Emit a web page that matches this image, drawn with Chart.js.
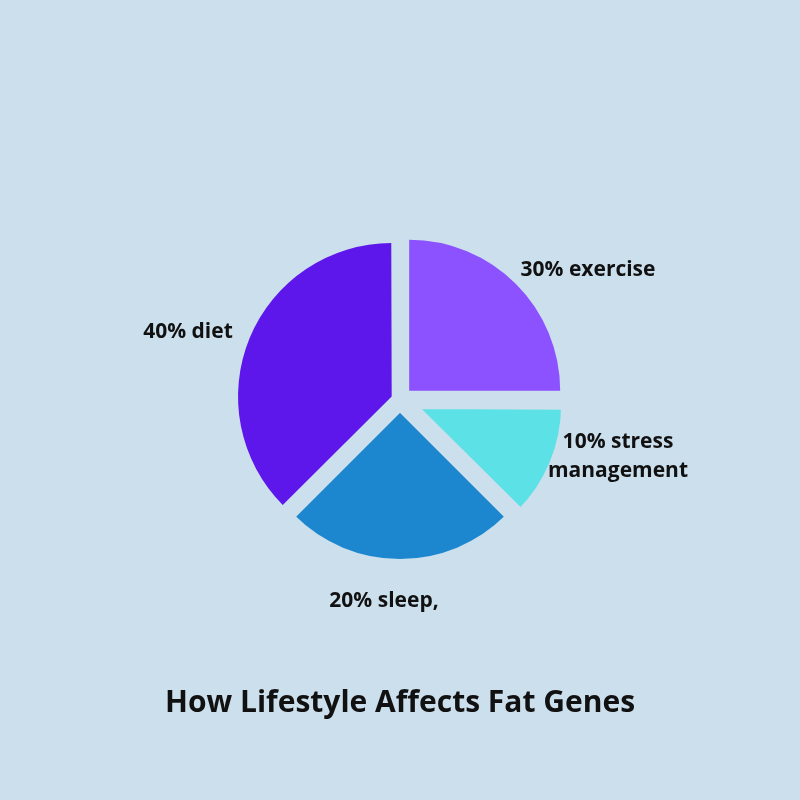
<!DOCTYPE html>
<html>
<head>
<meta charset="utf-8">
<script src="https://cdn.jsdelivr.net/npm/chart.js@4.4.0/dist/chart.umd.min.js"></script>
<style>
  html, body { margin: 0; padding: 0; background: #cbdfec; }
  #wrap { position: relative; width: 800px; height: 800px; }
</style>
</head>
<body>
<div id="wrap"><canvas id="pie"></canvas></div>
<script>
// slice order runs clockwise from 12 o'clock
const categories = ['exercise', 'stress management', 'sleep', 'diet'];
const shares = [25, 12.5, 25, 37.5];   // as drawn in the picture
const labelLines = [
    ['30% exercise'],
    ['10% stress', 'management'],
    ['20% sleep,'],
    ['40% diet']
];
const sliceColors = ['#8c52ff', '#5ce1e6', '#1c87cf', '#5e17eb'];
const titleText = 'How Lifestyle Affects Fat Genes';
const bg = '#cbdfec';

// text spots for the slice labels (centre of each text block)
const labelSpots = [
    { x: 588, y: 270 },
    { x: 618, y: 457 },
    { x: 384, y: 601 },
    { x: 188, y: 332 }
];

const sliceLabels = {
    id: 'sliceLabels',
    afterDraw: function (chart) {
        const ctx = chart.ctx;
        ctx.save();
        ctx.fillStyle = '#111111';
        ctx.font = 'bold 21px "Open Sans"';
        ctx.textAlign = 'center';
        ctx.textBaseline = 'middle';
        labelLines.forEach(function (lines, i) {
            const spot = labelSpots[i];
            const lh = 29;
            const y0 = spot.y - (lines.length - 1) * lh / 2;
            lines.forEach(function (t, j) {
                ctx.fillText(t, spot.x, y0 + j * lh);
            });
        });
        ctx.font = 'bold 30px "Open Sans"';
        ctx.fillText(titleText, 400, 703);
        ctx.restore();
    }
};

// chart.js draws arcs pushed out by offset / 4
// a border in the background colour widens the gap round a slice
new Chart(document.getElementById('pie'), {
    type: 'pie',
    data: {
        labels: categories,
        datasets: [{
            data: shares,
            backgroundColor: sliceColors,
            borderColor: bg,
            borderWidth: [0, 9, 4, 0],
            offset: [52, 48, 40, 36]
        }]
    },
    options: {
        responsive: true,
        maintainAspectRatio: false,
        animation: false,
        layout: { padding: { left: 218.5, right: 218.5, top: 218.5, bottom: 218.5 } },
        plugins: {
            legend: { display: false },
            tooltip: { enabled: false },
            title: { display: false }
        }
    },
    plugins: [sliceLabels]
});
</script>
</body>
</html>
